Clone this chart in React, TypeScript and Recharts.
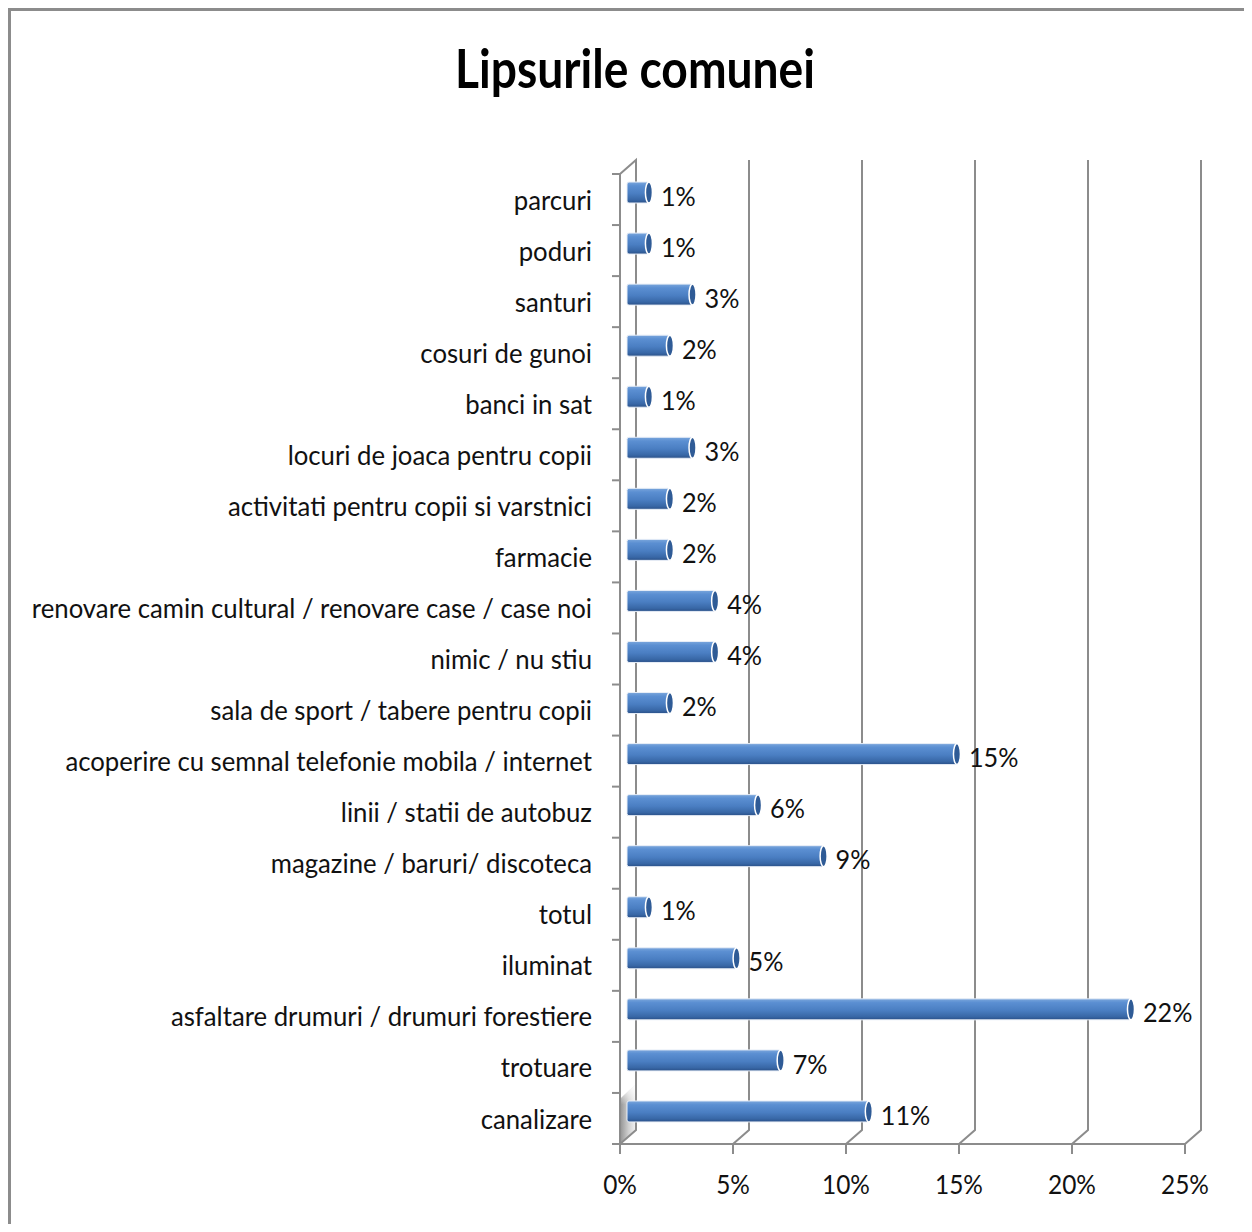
import React from 'react';
import { BarChart, Bar, XAxis, YAxis, CartesianGrid, LabelList } from 'recharts';

const categories = [
  'parcuri',
  'poduri',
  'santuri',
  'cosuri de gunoi',
  'banci in sat',
  'locuri de joaca pentru copii',
  'activitati pentru copii si varstnici',
  'farmacie',
  'renovare camin cultural / renovare case / case noi',
  'nimic / nu stiu',
  'sala de sport / tabere pentru copii',
  'acoperire cu semnal telefonie mobila / internet',
  'linii / statii de autobuz',
  'magazine / baruri/ discoteca',
  'totul',
  'iluminat',
  'asfaltare drumuri / drumuri forestiere',
  'trotuare',
  'canalizare',
];

const values = [
  0.97, 0.97, 2.9, 1.9, 0.97, 2.9, 1.9, 1.9, 3.9, 3.9, 1.9, 14.6, 5.8, 8.7, 0.97, 4.85, 22.3, 6.8, 10.7,
];

const xTicks = [0, 5, 10, 15, 20, 25];

const data = categories.map((name, i) => ({ name, value: values[i] }));

const CHART_W = 1236;
const CHART_H = 1216;
const MARGIN = { top: 166, right: 59, bottom: 20, left: 12 };
const Y_AXIS_W = 600;
const X_AXIS_H = 60;
const AXIS_X = MARGIN.left + Y_AXIS_W;
const PLOT_H = CHART_H - MARGIN.top - MARGIN.bottom - X_AXIS_H;
const AXIS_Y = MARGIN.top + PLOT_H;
const BAND = PLOT_H / categories.length;
const DX = 16;
const DY = 14;
const BX = 7;
const BY = 7;
const SX_CAT = 0.99;
const SX_LAB = 0.97;
const SX_TICK = 0.94;
const FONT = 'Lato, "Open Sans", sans-serif';
const GRID = '#8c8c8c';
const TEXT = '#111';

const YTick = (props: any) => {
  const { y, payload, index } = props;
  return (
    <g>
      <text
        transform={`translate(${AXIS_X - 28},${y}) scale(${SX_CAT},1)`}
        textAnchor="end"
        dominantBaseline="central"
        fontSize={26}
        fontFamily={FONT}
        fill={TEXT}
      >
        {payload.value}
      </text>
      <line x1={AXIS_X - 8} x2={AXIS_X} y1={y + BAND / 2} y2={y + BAND / 2} stroke={GRID} strokeWidth={2} />
      {index === 0 && (
        <line x1={AXIS_X - 8} x2={AXIS_X} y1={y - BAND / 2} y2={y - BAND / 2} stroke={GRID} strokeWidth={2} />
      )}
    </g>
  );
};

const XTick = (props: any) => {
  const { x, payload } = props;
  return (
    <text
      transform={`translate(${x},${AXIS_Y + 50}) scale(${SX_TICK},1)`}
      textAnchor="middle"
      fontSize={26}
      fontFamily={FONT}
      fill={TEXT}
    >
      {payload.value}%
    </text>
  );
};

const gridLine = (props: any) => {
  const { x1, y1, y2, index } = props;
  const isLeft = Math.abs(x1 - AXIS_X) < 1;
  let d = `M${x1},${y2} L${x1 + DX},${y2 - DY} L${x1 + DX},${y1 - DY}`;
  if (isLeft) d += ` L${x1},${y1}`;
  const pts = `${x1 + 1},${y2 - 46} ${x1 + DX},${y2 - 60} ${x1 + DX},${y2 - DY} ${x1 + 1},${y2 - 1}`;
  return (
    <g key={`g-${index}-${x1}`}>
      {isLeft && (
        <g>
          <defs>
            <linearGradient id="wallShade" x1="0" y1="0" x2="1" y2="0">
              <stop offset="0" stopColor="#9a9a9a" />
              <stop offset="0.5" stopColor="#cfcfcf" />
              <stop offset="1" stopColor="#f4f4f4" />
            </linearGradient>
            <linearGradient id="wallFade" x1="0" y1="0" x2="0" y2="1">
              <stop offset="0" stopColor="#fff" stopOpacity="1" />
              <stop offset="0.35" stopColor="#fff" stopOpacity="0" />
              <stop offset="1" stopColor="#fff" stopOpacity="0" />
            </linearGradient>
          </defs>
          <polygon points={pts} fill="url(#wallShade)" />
          <polygon points={pts} fill="url(#wallFade)" />
        </g>
      )}
      <path d={d} stroke={GRID} strokeWidth={2} fill="none" />
    </g>
  );
};

const CylinderBar = (props: any) => {
  const { x, y, width, height, index } = props;
  if (!width || width <= 0) return null;
  const bx = x + BX;
  const by = y - BY;
  const id = `cyl-${index}`;
  return (
    <g>
      <defs>
        <linearGradient id={id} x1="0" y1="0" x2="0" y2="1">
          <stop offset="0" stopColor="#7aa6dc" />
          <stop offset="0.18" stopColor="#5b8fd2" />
          <stop offset="0.55" stopColor="#4a7ec2" />
          <stop offset="0.85" stopColor="#3867a6" />
          <stop offset="1" stopColor="#2a5088" />
        </linearGradient>
      </defs>
      <rect x={bx} y={by} width={width} height={height} rx={2} fill={`url(#${id})`} stroke="#e8eef7" strokeWidth={1} />
      <ellipse cx={bx + width} cy={by + height / 2} rx={3.5} ry={height / 2} fill="#2f5b96" stroke="#ffffff" strokeWidth={1.5} />
    </g>
  );
};

const renderLabel = (props: any) => {
  const { x, y, width, height, value, index } = props;
  return (
    <text
      key={`l-${index}`}
      transform={`translate(${x + width + BX + 12},${y + height / 2 - BY + 3}) scale(${SX_LAB},1)`}
      dominantBaseline="central"
      fontSize={26}
      fontFamily={FONT}
      fill={TEXT}
    >
      {Math.round(value)}%
    </text>
  );
};

export default function App() {
  return (
    <div style={{ position: 'relative', width: CHART_W, height: CHART_H }}>
      <div
        style={{
          position: 'absolute',
          left: 0,
          top: 0,
          width: CHART_W + 8,
          height: CHART_H + 8,
          borderLeft: `3px solid ${GRID}`,
          borderTop: `3px solid ${GRID}`,
          boxSizing: 'border-box',
        }}
      />
      <svg style={{ position: 'absolute', left: 0, top: 0 }} width={CHART_W} height={120}>
        <text
          x={627}
          y={80}
          textAnchor="middle"
          fontSize={53}
          fontWeight="bold"
          fontFamily={FONT}
          fill="#000"
          textLength={360}
          lengthAdjust="spacingAndGlyphs"
        >
          Lipsurile comunei
        </text>
      </svg>
      <div style={{ position: 'absolute', left: 0, top: 0 }}>
        <BarChart width={CHART_W} height={CHART_H} data={data} layout="vertical" margin={MARGIN}>
          <CartesianGrid horizontal={false} vertical={gridLine} />
          <XAxis
            type="number"
            domain={[0, 25]}
            ticks={xTicks}
            height={X_AXIS_H}
            tick={<XTick />}
            tickSize={10}
            tickLine={{ stroke: GRID, strokeWidth: 2 }}
            axisLine={{ stroke: GRID, strokeWidth: 2 }}
            interval={0}
          />
          <YAxis
            type="category"
            dataKey="name"
            width={Y_AXIS_W}
            tick={<YTick />}
            tickLine={false}
            axisLine={{ stroke: GRID, strokeWidth: 2 }}
            interval={0}
          />
          <Bar dataKey="value" barSize={21} shape={<CylinderBar />} isAnimationActive={false}>
            <LabelList dataKey="value" content={renderLabel} />
          </Bar>
        </BarChart>
      </div>
    </div>
  );
}
